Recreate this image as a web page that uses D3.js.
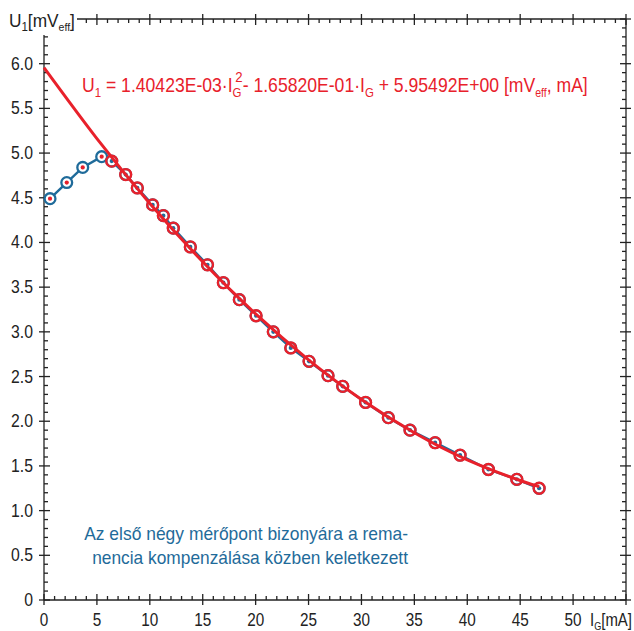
<!DOCTYPE html>
<html><head><meta charset="utf-8">
<script src="https://cdn.jsdelivr.net/npm/d3@7"></script>
<style>html,body{margin:0;padding:0;background:#fff}</style>
</head><body>
<svg id="c" width="634" height="631"></svg>
<script>
// ---- data ----
const measIG = [0.57,2.15,3.66,5.45,6.40,7.72,8.82,10.27,11.28,12.22,13.83,15.45,16.95,18.46,20.04,21.67,23.32,25.05,26.84,28.23,30.39,32.54,34.59,36.96,39.32,42.0,44.68,46.79];
const measU1 = [4.49,4.67,4.84,4.96,4.91,4.76,4.61,4.42,4.30,4.16,3.95,3.75,3.55,3.36,3.18,3.00,2.82,2.67,2.51,2.39,2.21,2.04,1.90,1.76,1.62,1.46,1.35,1.25];
const excludedCount = 4; // first four points not in the fit
const fitIG = [0,5,10,15,20,25,30,35,40,45,46.8];
const fitU1 = [5.955,5.161,4.437,3.784,3.200,2.687,2.244,1.871,1.569,1.337,1.270];
const xTickValues = [0,5,10,15,20,25,30,35,40,45,50];
const xTickLabels = ["0","5","10","15","20","25","30","35","40","45","50"];
const yTickValues = [0,0.5,1,1.5,2,2.5,3,3.5,4,4.5,5,5.5,6];
const yTickLabels = ["0","0.5","1.0","1.5","2.0","2.5","3.0","3.5","4.0","4.5","5.0","5.5","6.0"];
const noteLines = ["Az első négy mérőpont bizonyára a rema-","nencia kompenzálása közben keletkezett"];

const BLUE = "#1f6b9a", RED = "#e8212b", AX = "#222";
const FONT = "'Liberation Sans',Arial,sans-serif";

const svg = d3.select("#c");
const x = d3.scaleLinear().domain([0,55]).range([44,626]);
const y = d3.scaleLinear().domain([0,6.5]).range([600,19]);

function squeeze(sel, ax, factor){
  sel.attr("transform",`translate(${ax},0) scale(${factor},1) translate(${-ax},0)`);
}
function fitTo(sel, ax, target){
  const w = sel.node().getBBox().width;
  squeeze(sel, ax, target/w);
}

const axG = svg.append("g").attr("stroke",AX).attr("stroke-width",1.3);
axG.append("line").attr("x1",x(0)).attr("x2",x(55)).attr("y1",y(0)).attr("y2",y(0));
axG.append("line").attr("x1",77).attr("x2",x(55)).attr("y1",y(6.5)).attr("y2",y(6.5));
axG.append("line").attr("x1",x(0)).attr("x2",x(0)).attr("y1",35).attr("y2",y(0));
axG.append("line").attr("x1",x(55)).attr("x2",x(55)).attr("y1",y(6.5)).attr("y2",y(0));

const xMinor = d3.range(0,55.001,1);
const yMinor = d3.range(0,6.5001,0.1).map(v=>Math.round(v*10)/10);
const isMajX = v => Math.abs(v/5 - Math.round(v/5))<1e-6;
const isMajY = v => Math.abs(v/0.5 - Math.round(v/0.5))<1e-6;
xMinor.forEach(v=>{
  const maj=isMajX(v);
  axG.append("line").attr("x1",x(v)).attr("x2",x(v)).attr("y1",y(0)+(maj?5:0)).attr("y2",y(0)-(maj?6:4));
  if (x(v)>=80) axG.append("line").attr("x1",x(v)).attr("x2",x(v)).attr("y1",y(6.5)-(maj?5:0)).attr("y2",y(6.5)+(maj?6:4));
});
yMinor.forEach(v=>{
  const maj=isMajY(v);
  if (y(v)>=36) axG.append("line").attr("x1",x(0)-(maj?5:0)).attr("x2",x(0)+(maj?6:4)).attr("y1",y(v)).attr("y2",y(v));
  axG.append("line").attr("x1",x(55)+(maj?5:0)).attr("x2",x(55)-(maj?6:4)).attr("y1",y(v)).attr("y2",y(v));
});

// tick labels
svg.append("g").selectAll("text").data(xTickValues).join("text")
  .attr("x",d=>x(d)).attr("y",626).attr("text-anchor","middle")
  .attr("font-family",FONT).attr("font-size",18).attr("fill",AX)
  .text((d,i)=>xTickLabels[i])
  .each(function(d){ squeeze(d3.select(this), x(d), 0.85); });
svg.append("g").selectAll("text").data(yTickValues).join("text")
  .attr("x",33).attr("y",d=>y(d)+6).attr("text-anchor","end")
  .attr("font-family",FONT).attr("font-size",17.5).attr("fill",AX)
  .text((d,i)=>yTickLabels[i])
  .each(function(){ squeeze(d3.select(this), 33, 0.9); });

// axis titles
const yt = svg.append("text").attr("x",9).attr("y",27).attr("font-family",FONT).attr("font-size",18).attr("fill",AX);
yt.append("tspan").text("U");
yt.append("tspan").attr("font-size",12).attr("dy",4).text("1");
yt.append("tspan").attr("dy",-4).text("[mV");
yt.append("tspan").attr("font-size",11).attr("dy",4).text("eff");
yt.append("tspan").attr("dy",-4).text("]");
fitTo(yt, 9, 66);
const xt = svg.append("text").attr("x",590).attr("y",626).attr("font-family",FONT).attr("font-size",18).attr("fill",AX);
xt.append("tspan").text("I");
xt.append("tspan").attr("font-size",11).attr("dy",4).text("G");
xt.append("tspan").attr("dy",-4).text("[mA]");
fitTo(xt, 590, 42);

// equation
const eq = svg.append("text").attr("x",82).attr("y",92).attr("font-family",FONT).attr("font-size",20).attr("fill",RED);
eq.append("tspan").text("U");
eq.append("tspan").attr("font-size",13).attr("dy",5).text("1");
eq.append("tspan").attr("dy",-5).text(" = 1.40423E-03·I");
eq.append("tspan").attr("font-size",13).attr("dy",5).text("G");
eq.append("tspan").attr("font-size",15).attr("dx",-7).attr("dy",-15).text("2");
eq.append("tspan").attr("dy",10).text("- 1.65820E-01·I");
eq.append("tspan").attr("font-size",13).attr("dy",5).text("G");
eq.append("tspan").attr("dy",-5).text(" + 5.95492E+00  [mV");
eq.append("tspan").attr("font-size",12).attr("dy",5).text("eff");
eq.append("tspan").attr("dy",-5).text(", mA]");
fitTo(eq, 82, 506);

// note
svg.append("g").selectAll("text").data(noteLines).join("text")
  .attr("x",408).attr("y",(d,i)=>540+i*24).attr("text-anchor","end")
  .attr("font-family",FONT).attr("font-size",18).attr("fill",BLUE)
  .text(d=>d)
  .each(function(d,i){ fitTo(d3.select(this), 408, i===0?324:316); });

// data
const meas = measIG.map((v,i)=>({x:v,y:measU1[i],i}));
const fit = fitIG.map((v,i)=>({x:v,y:fitU1[i]}));

svg.append("path").datum(meas)
  .attr("d",d3.line().x(d=>x(d.x)).y(d=>y(d.y)))
  .attr("fill","none").attr("stroke",BLUE).attr("stroke-width",2.4);

svg.append("g").selectAll("circle").data(meas).join("circle")
  .attr("cx",d=>x(d.x)).attr("cy",d=>y(d.y)).attr("r",5.4)
  .attr("fill","#fff").attr("stroke",BLUE).attr("stroke-width",2.3);
svg.append("g").selectAll("circle").data(meas).join("circle")
  .attr("cx",d=>x(d.x)).attr("cy",d=>y(d.y)).attr("r",2.1)
  .attr("fill",d=>d.i<excludedCount?RED:BLUE);

svg.append("path").datum(fit)
  .attr("d",d3.line().curve(d3.curveNatural).x(d=>x(d.x)).y(d=>y(d.y)))
  .attr("fill","none").attr("stroke",RED).attr("stroke-width",3);

svg.append("g").selectAll("circle").data(meas.filter(d=>d.i>=excludedCount)).join("circle")
  .attr("cx",d=>x(d.x)).attr("cy",d=>y(d.y)).attr("r",5.5)
  .attr("fill","none").attr("stroke",RED).attr("stroke-width",2.3);
</script>
</body></html>
